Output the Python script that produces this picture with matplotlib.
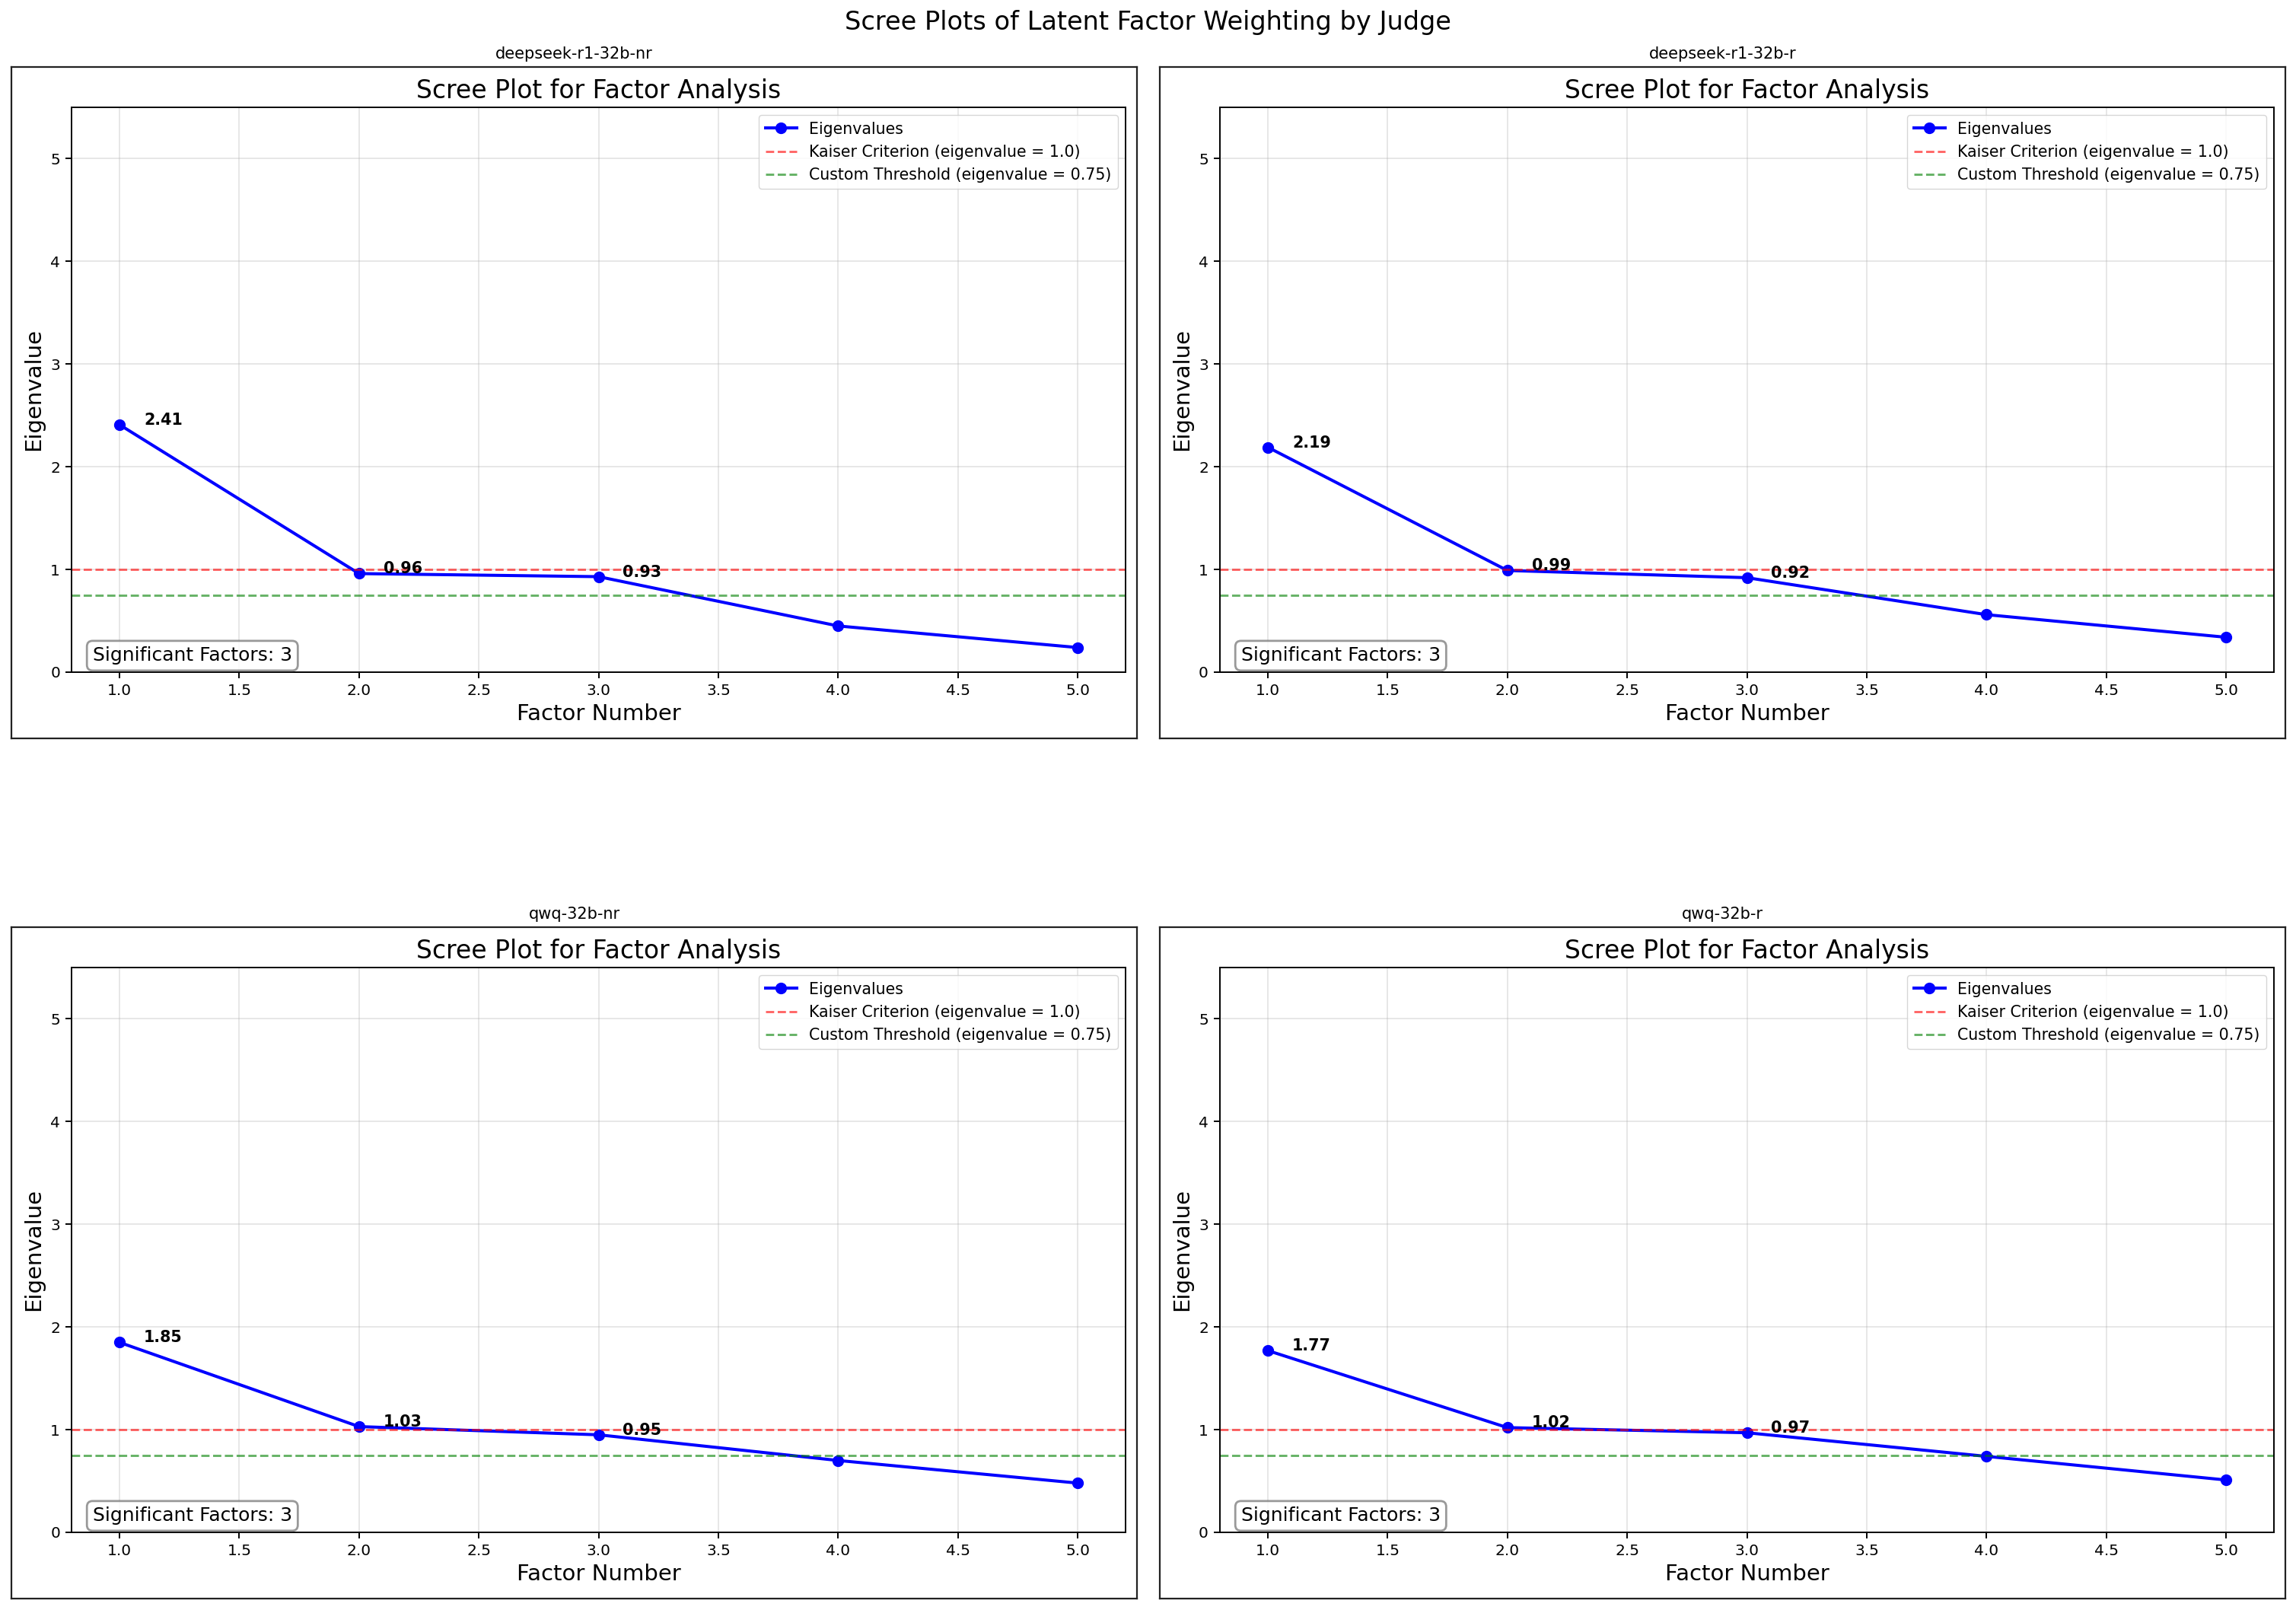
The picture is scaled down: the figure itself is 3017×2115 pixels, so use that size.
import matplotlib.pyplot as plt
import numpy as np

judges = ['deepseek-r1-32b-nr', 'deepseek-r1-32b-r', 'qwq-32b-nr', 'qwq-32b-r']
factors = [1, 2, 3, 4, 5]
eig_ds_nr = [2.41, 0.96, 0.93, 0.45, 0.24]
eig_ds_r = [2.19, 0.99, 0.92, 0.56, 0.34]
eig_qwq_nr = [1.85, 1.03, 0.95, 0.70, 0.48]
eig_qwq_r = [1.77, 1.02, 0.97, 0.74, 0.51]
eigen_sets = [eig_ds_nr, eig_ds_r, eig_qwq_nr, eig_qwq_r]
kaiser = 1.0
custom = 0.75

W, H = 3017, 2115
fig = plt.figure(figsize=(W / 100, H / 100), dpi=100)


def frac(x0, y0, x1, y1):
    # pixel box (top-left origin) -> figure fraction rect
    return [x0 / W, 1 - y1 / H, (x1 - x0) / W, (y1 - y0) / H]


fig.text(0.5, 1 - 30 / H, 'Scree Plots of Latent Factor Weighting by Judge',
         ha='center', va='center', fontsize=24.2)

for k, (name, eig) in enumerate(zip(judges, eigen_sets)):
    dx = 1509 * (k % 2)
    dy = 1130 * (k // 2)

    outer = fig.add_axes(frac(15 + dx, 88 + dy, 1494 + dx, 970 + dy))
    outer.set_xticks([])
    outer.set_yticks([])
    for sp in outer.spines.values():
        sp.set_linewidth(1.6)
        sp.set_color('#222222')
    outer.set_title(name, fontsize=15, pad=8)

    ax = fig.add_axes(frac(94 + dx, 141 + dy, 1479 + dx, 883 + dy))
    ax.plot(factors, eig, 'bo-', linewidth=2.9, markersize=10, label='Eigenvalues')
    ax.axhline(kaiser, color='r', linestyle='--', alpha=0.6, linewidth=2.1,
               label='Kaiser Criterion (eigenvalue = 1.0)')
    ax.axhline(custom, color='g', linestyle='--', alpha=0.6, linewidth=2.1,
               label='Custom Threshold (eigenvalue = 0.75)')
    for f, v in zip(factors, eig):
        if v >= custom:
            ax.annotate(f'{v:.2f}', (f, v), xytext=(23, 0), textcoords='offset points',
                        fontsize=14.9, fontweight='bold')
    n_sig = sum(1 for v in eig if v >= custom)
    ax.text(0.02, 0.013, f'Significant Factors: {n_sig}', transform=ax.transAxes,
            fontsize=18, va='bottom',
            bbox=dict(boxstyle='round,pad=0.3', facecolor='white', edgecolor='gray', alpha=0.8, linewidth=2))
    ax.set_ylim(0, 5.5)
    ax.set_title('Scree Plot for Factor Analysis', fontsize=23.8, pad=9)
    ax.set_xlabel('Factor Number', fontsize=21, labelpad=5)
    ax.set_ylabel('Eigenvalue', fontsize=21, labelpad=6)
    ax.tick_params(labelsize=14.5, length=5.8, width=1.4, pad=5)
    for sp in ax.spines.values():
        sp.set_linewidth(1.4)
    ax.grid(True, alpha=0.3, linewidth=1.4)
    ax.legend(loc='upper right', fontsize=14.8)

fig.savefig('out.png', dpi=100)
